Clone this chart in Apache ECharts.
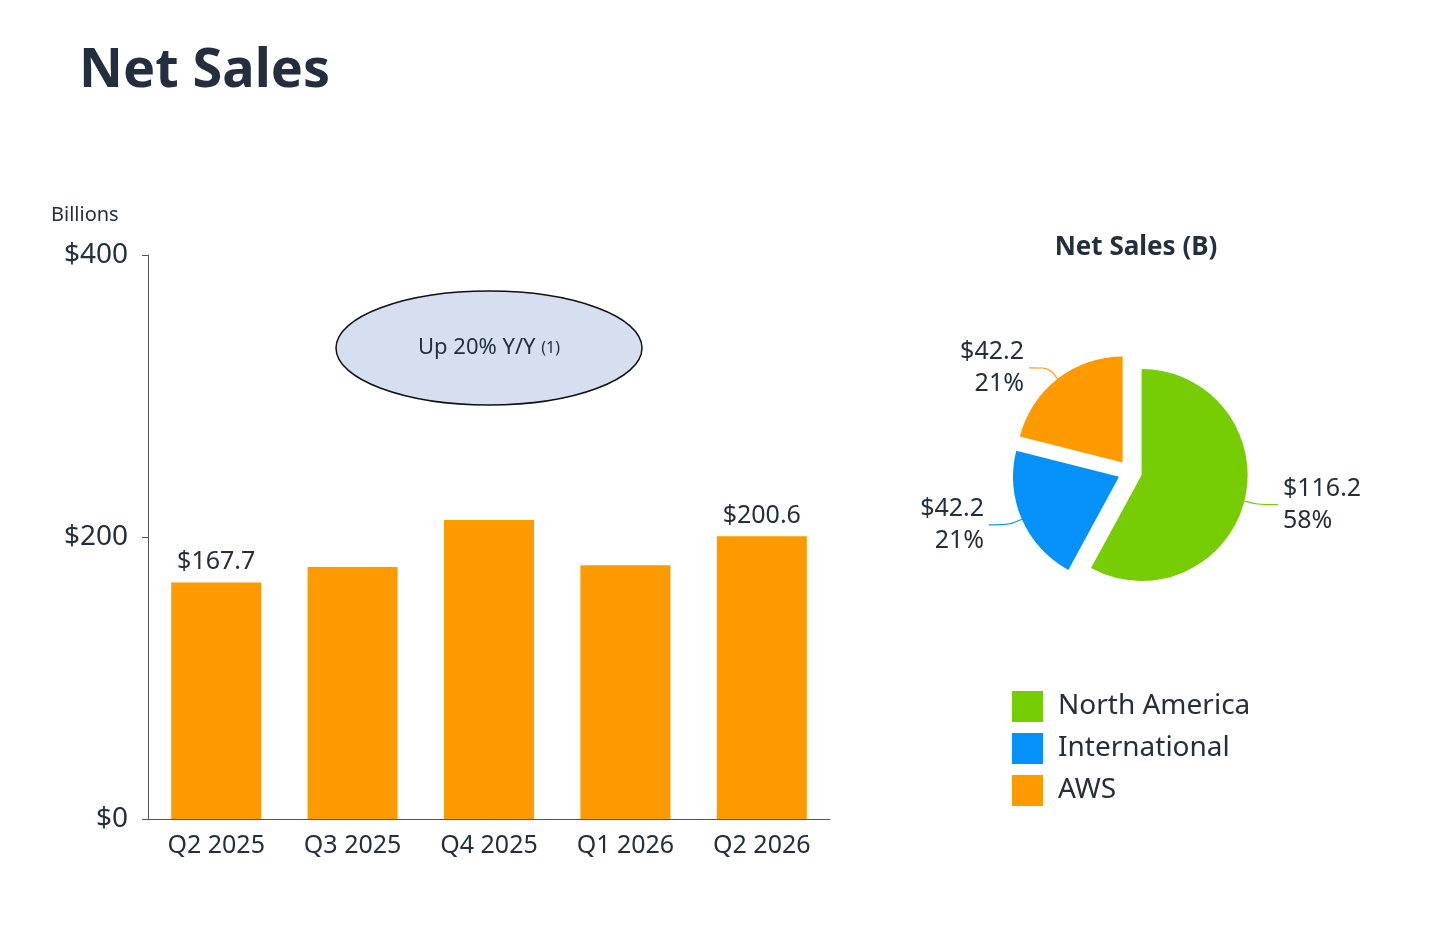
<!DOCTYPE html>
<html><head><meta charset="utf-8">
<script src="https://cdn.jsdelivr.net/npm/echarts@6/dist/echarts.min.js"></script>
<style>html,body{margin:0;background:#fff}#c{width:1456px;height:937px}</style>
</head><body><div id="c"></div>
<script>
const categories = ['Q2 2025','Q3 2025','Q4 2025','Q1 2026','Q2 2026'];
const netSales = [167.7, 178.8, 212.0, 180.0, 200.6];
const barLabels = ['$167.7','','','','$200.6'];
const yTicks = ['$0','$200','$400'];
const segments = ['North America','International','AWS'];
const segValues = [116.2, 42.2, 42.2];
const segPct = ['58%','21%','21%'];
const segColors = ['#76cd04','#0591fa','#fd9a00'];

const F = 'Noto Sans';
const ink = '#232f3e';
const chart = echarts.init(document.getElementById('c'));
chart.setOption({
  animation:false,
  textStyle:{fontFamily:F},
  title:[
    {text:'Net Sales',left:74,top:40,textStyle:{fontSize:54,fontWeight:'bold',color:ink,fontFamily:F}},
    {text:'Billions',left:46,top:200,textStyle:{fontSize:20,fontWeight:'normal',color:ink,fontFamily:F}},
    {text:'Net Sales (B)',left:1131,textAlign:'center',top:230,textStyle:{fontSize:26,fontWeight:'bold',color:ink,fontFamily:F}}
  ],
  grid:{left:148,top:255,width:682,height:564},
  xAxis:{type:'category',data:categories,
    axisLine:{lineStyle:{color:'#555'}},axisTick:{show:false},
    axisLabel:{fontSize:25,color:ink,margin:14}},
  yAxis:{type:'value',min:0,max:400,interval:200,
    axisLine:{show:true,lineStyle:{color:'#555'}},axisTick:{show:true,length:6,lineStyle:{color:'#555'}},
    splitLine:{show:false},
    axisLabel:{fontSize:28,color:ink,margin:20,formatter:v=>yTicks[v/200]}},
  legend:{orient:'vertical',left:1007,top:686,itemWidth:31,itemHeight:31,itemGap:11,
    icon:'rect',data:segments,textStyle:{fontSize:28,color:ink,padding:[0,0,0,10]}},
  series:[
    {type:'bar',data:netSales,barWidth:'66%',itemStyle:{color:'#fd9a00'},
     label:{show:true,position:'top',fontSize:25,color:ink,distance:8,
       formatter:p=>barLabels[p.dataIndex]}},
    {type:'pie',center:[1130,472],radius:[0,106],startAngle:90,clockwise:true,
     selectedMode:'multiple',selectedOffset:12,
     data:segments.map((n,i)=>({name:n,value:segValues[i],selected:true,itemStyle:{color:segColors[i]}})),
     label:{show:true,fontSize:25,color:ink,lineHeight:32,align:'left',
       formatter:p=>'$'+segValues[p.dataIndex].toFixed(1)+'\n'+segPct[p.dataIndex]},
     labelLine:{show:true,length:14,length2:20,smooth:true,lineStyle:{width:1.2}}}
  ],
  graphic:[
    {type:'ellipse',shape:{cx:489,cy:348,rx:153,ry:57},style:{fill:'#d5dff0',stroke:'#111',lineWidth:1.5}},
    {type:'text',x:489,y:348,style:{text:'{a|Up 20% Y/Y }{b|(1)}',align:'center',verticalAlign:'middle',
      rich:{a:{fontSize:22,fill:ink,fontFamily:F},b:{fontSize:16,fill:ink,fontFamily:F}}}}
  ]
});
</script></body></html>
